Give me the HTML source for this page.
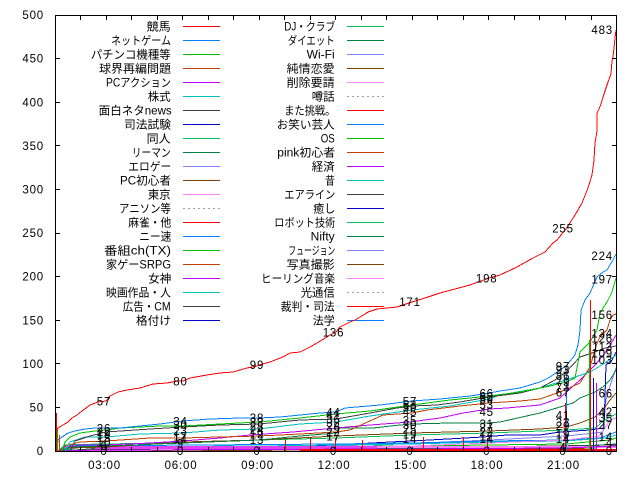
<!DOCTYPE html>
<html><head><meta charset="utf-8"><style>
html,body{margin:0;padding:0;background:#fff;}
svg{display:block;}
.t{font-family:"Liberation Sans","Noto Sans CJK JP",sans-serif;font-size:11.5px;fill:#000;}
.n{font-family:"Liberation Sans",sans-serif;font-size:11.5px;letter-spacing:0.8px;fill:#000;}
</style></head><body>
<svg width="640" height="480" viewBox="0 0 640 480" xmlns="http://www.w3.org/2000/svg">
<rect width="640" height="480" fill="#fff"/>

<!-- y tick labels -->
<g class="n" text-anchor="end">
<text x="44" y="455.1">0</text>
<text x="44" y="411.5">50</text>
<text x="44" y="367.9">100</text>
<text x="44" y="324.3">150</text>
<text x="44" y="280.7">200</text>
<text x="44" y="237.1">250</text>
<text x="44" y="193.5">300</text>
<text x="44" y="149.9">350</text>
<text x="44" y="106.3">400</text>
<text x="44" y="62.7">450</text>
<text x="44" y="19.1">500</text>
</g>
<!-- x tick labels -->
<g class="n" text-anchor="middle">
<text x="104.5" y="469">03:00</text>
<text x="181" y="469">06:00</text>
<text x="257.5" y="469">09:00</text>
<text x="334" y="469">12:00</text>
<text x="410.5" y="469">15:00</text>
<text x="487" y="469">18:00</text>
<text x="563.5" y="469">21:00</text>
</g>

<!-- legend -->
<g class="t" lengthAdjust="spacingAndGlyphs">
<text x="146.7" y="30.5" textLength="24" lengthAdjust="spacingAndGlyphs">競馬</text>
<text x="111" y="44.5" textLength="60" lengthAdjust="spacingAndGlyphs">ネットゲーム</text>
<text x="90.7" y="58.5" textLength="80" lengthAdjust="spacingAndGlyphs">パチンコ機種等</text>
<text x="99" y="72.5" textLength="72" lengthAdjust="spacingAndGlyphs">球界再編問題</text>
<text x="106" y="86.5" textLength="65" lengthAdjust="spacingAndGlyphs">PCアクション</text>
<text x="147.7" y="100.5" textLength="23" lengthAdjust="spacingAndGlyphs">株式</text>
<text x="98.7" y="114.5" textLength="73" lengthAdjust="spacingAndGlyphs">面白ネタnews</text>
<text x="124" y="128.5" textLength="47" lengthAdjust="spacingAndGlyphs">司法試験</text>
<text x="146.7" y="142.5" textLength="24" lengthAdjust="spacingAndGlyphs">同人</text>
<text x="131.7" y="156.5" textLength="39" lengthAdjust="spacingAndGlyphs">リーマン</text>
<text x="128.3" y="170.5" textLength="43" lengthAdjust="spacingAndGlyphs">エロゲー</text>
<text x="120" y="184.5" textLength="51" lengthAdjust="spacingAndGlyphs">PC初心者</text>
<text x="147.7" y="198.5" textLength="23" lengthAdjust="spacingAndGlyphs">東京</text>
<text x="119" y="212.5" textLength="52" lengthAdjust="spacingAndGlyphs">アニソン等</text>
<text x="128.3" y="226.5" textLength="43" lengthAdjust="spacingAndGlyphs">麻雀・他</text>
<text x="139.3" y="240.5" textLength="32" lengthAdjust="spacingAndGlyphs">ニー速</text>
<text x="104" y="254.5" textLength="67" lengthAdjust="spacingAndGlyphs">番組ch(TX)</text>
<text x="106" y="268.5" textLength="65" lengthAdjust="spacingAndGlyphs">家ゲーSRPG</text>
<text x="148.3" y="282.5" textLength="23" lengthAdjust="spacingAndGlyphs">女神</text>
<text x="106" y="296.5" textLength="65" lengthAdjust="spacingAndGlyphs">映画作品・人</text>
<text x="122.7" y="310.5" textLength="48" lengthAdjust="spacingAndGlyphs">広告・CM</text>
<text x="136" y="324.5" textLength="35" lengthAdjust="spacingAndGlyphs">格付け</text>

<text x="284.3" y="30.5" textLength="51" lengthAdjust="spacingAndGlyphs">DJ・クラブ</text>
<text x="287.7" y="44.5" textLength="47" lengthAdjust="spacingAndGlyphs">ダイエット</text>
<text x="306.7" y="58.5" textLength="28" lengthAdjust="spacingAndGlyphs">Wi-Fi</text>
<text x="286.7" y="72.5" textLength="48" lengthAdjust="spacingAndGlyphs">純情恋愛</text>
<text x="286.7" y="86.5" textLength="48" lengthAdjust="spacingAndGlyphs">削除要請</text>
<text x="311.7" y="100.5" textLength="23" lengthAdjust="spacingAndGlyphs">噂話</text>
<text x="284.3" y="114.5" textLength="51" lengthAdjust="spacingAndGlyphs">また挑戦。</text>
<text x="276.7" y="128.5" textLength="58" lengthAdjust="spacingAndGlyphs">お笑い芸人</text>
<text x="320.7" y="142.5" textLength="14" lengthAdjust="spacingAndGlyphs">OS</text>
<text x="277.3" y="156.5" textLength="58" lengthAdjust="spacingAndGlyphs">pink初心者</text>
<text x="311.7" y="170.5" textLength="23" lengthAdjust="spacingAndGlyphs">経済</text>
<text x="325" y="184.5" textLength="10" lengthAdjust="spacingAndGlyphs">昔</text>
<text x="284.3" y="198.5" textLength="51" lengthAdjust="spacingAndGlyphs">エアライン</text>
<text x="313.3" y="212.5" textLength="22" lengthAdjust="spacingAndGlyphs">癒し</text>
<text x="274.3" y="226.5" textLength="61" lengthAdjust="spacingAndGlyphs">ロボット技術</text>
<text x="310.7" y="240.5" textLength="24" lengthAdjust="spacingAndGlyphs">Nifty</text>
<text x="288.3" y="254.5" textLength="47" lengthAdjust="spacingAndGlyphs">フュージョン</text>
<text x="286.7" y="268.5" textLength="48" lengthAdjust="spacingAndGlyphs">写真撮影</text>
<text x="261" y="282.5" textLength="74" lengthAdjust="spacingAndGlyphs">ヒーリング音楽</text>
<text x="300.7" y="296.5" textLength="34" lengthAdjust="spacingAndGlyphs">光通信</text>
<text x="280.7" y="310.5" textLength="54" lengthAdjust="spacingAndGlyphs">裁判・司法</text>
<text x="312.7" y="324.5" textLength="22" lengthAdjust="spacingAndGlyphs">法学</text>
</g>

<g shape-rendering="crispEdges" stroke-width="1" fill="none">
<!-- legend samples left -->
<line x1="183" x2="220" y1="26.5" y2="26.5" stroke="#ff0000"/>
<line x1="183" x2="220" y1="40.5" y2="40.5" stroke="#0080ff"/>
<line x1="183" x2="220" y1="54.5" y2="54.5" stroke="#00c000"/>
<line x1="183" x2="220" y1="68.5" y2="68.5" stroke="#c04000"/>
<line x1="183" x2="220" y1="82.5" y2="82.5" stroke="#c000ff"/>
<line x1="183" x2="220" y1="96.5" y2="96.5" stroke="#00c0c0"/>
<line x1="183" x2="220" y1="110.5" y2="110.5" stroke="#404040"/>
<line x1="183" x2="220" y1="124.5" y2="124.5" stroke="#0000c0"/>
<line x1="183" x2="220" y1="138.5" y2="138.5" stroke="#00c060"/>
<line x1="183" x2="220" y1="152.5" y2="152.5" stroke="#008040"/>
<line x1="183" x2="220" y1="166.5" y2="166.5" stroke="#8080ff"/>
<line x1="183" x2="220" y1="180.5" y2="180.5" stroke="#804000"/>
<line x1="183" x2="220" y1="194.5" y2="194.5" stroke="#ff80ff"/>
<line x1="183" x2="220" y1="208.5" y2="208.5" stroke="#a0a0a0" stroke-dasharray="2,3"/>
<line x1="183" x2="220" y1="222.5" y2="222.5" stroke="#ff0000"/>
<line x1="183" x2="220" y1="236.5" y2="236.5" stroke="#0080ff"/>
<line x1="183" x2="220" y1="250.5" y2="250.5" stroke="#00c000"/>
<line x1="183" x2="220" y1="264.5" y2="264.5" stroke="#c04000"/>
<line x1="183" x2="220" y1="278.5" y2="278.5" stroke="#c000ff"/>
<line x1="183" x2="220" y1="292.5" y2="292.5" stroke="#00c0c0"/>
<line x1="183" x2="220" y1="306.5" y2="306.5" stroke="#404040"/>
<line x1="183" x2="220" y1="320.5" y2="320.5" stroke="#0000c0"/>
<!-- legend samples right -->
<line x1="347" x2="384" y1="26.5" y2="26.5" stroke="#00c060"/>
<line x1="347" x2="384" y1="40.5" y2="40.5" stroke="#008040"/>
<line x1="347" x2="384" y1="54.5" y2="54.5" stroke="#8080ff"/>
<line x1="347" x2="384" y1="68.5" y2="68.5" stroke="#804000"/>
<line x1="347" x2="384" y1="82.5" y2="82.5" stroke="#ff80ff"/>
<line x1="347" x2="384" y1="96.5" y2="96.5" stroke="#a0a0a0" stroke-dasharray="2,3"/>
<line x1="347" x2="384" y1="110.5" y2="110.5" stroke="#ff0000"/>
<line x1="347" x2="384" y1="124.5" y2="124.5" stroke="#0080ff"/>
<line x1="347" x2="384" y1="138.5" y2="138.5" stroke="#00c000"/>
<line x1="347" x2="384" y1="152.5" y2="152.5" stroke="#c04000"/>
<line x1="347" x2="384" y1="166.5" y2="166.5" stroke="#c000ff"/>
<line x1="347" x2="384" y1="180.5" y2="180.5" stroke="#00c0c0"/>
<line x1="347" x2="384" y1="194.5" y2="194.5" stroke="#404040"/>
<line x1="347" x2="384" y1="208.5" y2="208.5" stroke="#0000c0"/>
<line x1="347" x2="384" y1="222.5" y2="222.5" stroke="#00c060"/>
<line x1="347" x2="384" y1="236.5" y2="236.5" stroke="#008040"/>
<line x1="347" x2="384" y1="250.5" y2="250.5" stroke="#8080ff"/>
<line x1="347" x2="384" y1="264.5" y2="264.5" stroke="#804000"/>
<line x1="347" x2="384" y1="278.5" y2="278.5" stroke="#ff80ff"/>
<line x1="347" x2="384" y1="292.5" y2="292.5" stroke="#a0a0a0" stroke-dasharray="2,3"/>
<line x1="347" x2="384" y1="306.5" y2="306.5" stroke="#ff0000"/>
<line x1="347" x2="384" y1="320.5" y2="320.5" stroke="#0080ff"/>

<!-- bottom clutter -->
<polyline stroke="#8080ff" points="58,451 150,447 300,446 377,445 489,440 566,436 603,432 606,400 610,386 616,368"/>
<polyline stroke="#0000c0" points="60,451 200,450 259,447 336,445 390,442 412,441 483,437 507,435 540,435 560,432 590,430 604,428 606,365 612,360 616,352"/>
<polyline stroke="#0080ff" points="60,451 70,446 200,445 336,444 412,443 489,441 566,440 600,438 616,432"/>
<polyline stroke="#00c0c0" points="62,451 80,447 259,446 412,444 489,442 566,441 605,438 616,435"/>
<polyline stroke="#00c000" points="65,451 100,448 259,447 412,446 489,445 566,444 610,440 616,438"/>
<polyline stroke="#404040" points="58,451 90,449 336,448 489,447 616,445"/>
<polyline stroke="#008040" points="70,451 259,449 412,448 566,447 616,444"/>
<polyline stroke="#804000" points="80,451 336,450 566,449 616,447"/>
<polyline stroke="#00c060" points="58,451 65,445 100,444 183,443 259,440 336,438 412,435 489,433 566,430 595,428 605,420 616,414"/>
<polyline stroke="#ff80ff" points="60,451 183,450 259,449 336,447 412,446 489,443 566,440 600,436 610,420 616,418"/>
<polyline stroke="#e040f0" stroke-width="3" points="95,447.5 377,447.5"/>
<polyline stroke="#ff80ff" stroke-width="2" points="377,447 616,447"/>
<polyline stroke="#c000ff" points="60,451 100,450 400,449 566,448 616,446"/>
<polyline stroke="#ff0000" stroke-width="2" points="300,450 616,450"/>

<!-- main series -->
<polyline stroke="#804000" points="60,451 70,448 106,447 183,442 259,440 336,436 412,433 489,431 540,429 566,427 580,423 595,417 603,410 610,400 616,393"/>
<polyline stroke="#008040" points="60,451 70,447 106,446 183,443 259,440 300,436 336,433 340,428 373,428 400,425 412,424 450,423 489,423 500,422 540,413 560,407 573,403 580,398 595,392 603,387 610,380 616,370"/>
<polyline stroke="#c000ff" points="58,451 65,447 80,445 106,445 150,443 183,441 220,438 250,435 293,432 336,428 370,425 410,422 440,418 463,413 489,409 507,408 540,405 560,398 580,380 595,365 605,353 612,342 616,335"/>
<polyline stroke="#c04000" points="60,451 65,446 80,442 106,441 150,438 183,438 220,437 259,436 300,434 336,432 350,430 383,415 412,413 427,410 460,406 489,403 520,401 540,399 560,392 580,383 590,367 597,343 600,337 607,330 610,320 613,315 616,314"/>
<polyline stroke="#00c0c0" points="65,451 70,442 85,437 106,437 140,434 183,433 220,430 259,429 300,424 336,422 370,416 412,410 450,406 489,399 500,395 540,388 566,380 590,372 605,363 616,355"/>
<polyline stroke="#404040" points="70,451 75,441 90,436 106,432 150,429 183,427 220,425 259,424 300,420 336,419 370,413 397,408 412,406 437,405 460,402 483,398 489,397 520,393 540,388 555,380 566,372 580,357 595,352 605,348 616,346"/>
<polyline stroke="#00c000" points="62,451 65,442 70,437 80,433 95,431 106,430 120,428 160,426 183,426 220,424 259,422 300,418 336,414 370,411 412,405 450,400 489,396 520,392 550,386 566,382 575,378 580,352 590,342 597,330 600,313 607,302 612,292 616,278"/>
<polyline stroke="#0080ff" points="57,451 58,440 62,437 68,433 75,431 85,429 95,428 106,428 120,428 140,426 160,424 175,422 183,421 210,419 240,418 259,418 280,417 300,415 320,413 336,412 345,408 380,405 412,401 440,399 470,396 489,393 500,391 520,388 540,382 550,377 560,370 566,366 575,355 578,345 580,330 581,310 585,300 590,293 597,277 603,272 607,270 610,265 613,260 616,254"/>

<!-- spikes -->
<line x1="56.5" x2="56.5" y1="413" y2="451" stroke="#ff0000"/>
<line x1="57.5" x2="57.5" y1="428" y2="451" stroke="#00c000"/>
<line x1="59.5" x2="59.5" y1="435" y2="451" stroke="#c04000"/>
<line x1="285.5" x2="285.5" y1="440" y2="451" stroke="#ff0000"/>
<line x1="310.5" x2="310.5" y1="437" y2="451" stroke="#ff0000"/>
<line x1="335.5" x2="335.5" y1="438" y2="451" stroke="#ff0000"/>
<line x1="362.5" x2="362.5" y1="440" y2="451" stroke="#ff0000"/>
<line x1="423.5" x2="423.5" y1="437" y2="451" stroke="#ff0000"/>
<line x1="463.5" x2="463.5" y1="437" y2="451" stroke="#ff0000"/>
<line x1="487.5" x2="487.5" y1="438" y2="451" stroke="#ff0000"/>
<line x1="565.5" x2="565.5" y1="403" y2="451" stroke="#ff0000"/>
<line x1="566.5" x2="566.5" y1="372" y2="451" stroke="#0080ff"/>
<line x1="589.5" x2="589.5" y1="340" y2="451" stroke="#00c000"/>
<line x1="590.5" x2="590.5" y1="300" y2="451" stroke="#ff0000"/>
<line x1="593.5" x2="593.5" y1="378" y2="451" stroke="#0000c0"/>
<line x1="596.5" x2="596.5" y1="383" y2="451" stroke="#c000ff"/>

<!-- red main -->
<polyline stroke="#ff0000" points="56,451 56,432 58,428 63,425 68,422 72,418 77,415 82,411 90,405 98,402 106,401 110,396 118,392 127,390 140,388 153,384 167,383 177,381 183,381 190,378 207,375 220,373 233,372 247,368 257,366 259,365 270,362 275,360 283,357 290,353 300,352 310,347 317,343 322,340 330,335 336,332 340,327 350,322 355,320 365,314 368,312 377,309 397,307 412,302 425,298 440,293 455,289 470,285 489,278 500,275 517,267 533,258 545,252 553,243 557,240 566,229 575,215 582,203 588,188 592,175 594,160 595,143 597,131 597,113 599,109 601,104 603,97 606,88 608,82 611,74 612,61 613,57 614,48 615,38 616,30"/>
</g>

<!-- value labels -->
<g class="n" text-anchor="middle">
<text x="104" y="405.4">57</text><text x="104" y="432.4">26</text><text x="104" y="435.9">22</text><text x="104" y="438.5">19</text><text x="104" y="442">15</text><text x="104" y="446.4">10</text><text x="104" y="449.9">6</text><text x="104" y="455.1">0</text>
<text x="180.5" y="385.3">80</text><text x="180.5" y="425.5">34</text><text x="180.5" y="428.9">30</text><text x="180.5" y="435.1">23</text><text x="180.5" y="440.3">17</text><text x="180.5" y="442.9">14</text><text x="180.5" y="447.3">9</text><text x="180.5" y="455.1">0</text>
<text x="257" y="368.8">99</text><text x="257" y="422">38</text><text x="257" y="426.3">33</text><text x="257" y="430.7">28</text><text x="257" y="434.2">24</text><text x="257" y="438.5">19</text><text x="257" y="443.8">13</text><text x="257" y="455.1">0</text>
<text x="333.5" y="336.5">136</text><text x="333.5" y="416.7">44</text><text x="333.5" y="419.3">41</text><text x="333.5" y="423.7">36</text><text x="333.5" y="427.2">32</text><text x="333.5" y="430.7">28</text><text x="333.5" y="435.9">22</text><text x="333.5" y="440.3">17</text><text x="333.5" y="455.1">0</text>
<text x="410" y="306">171</text><text x="410" y="405.4">57</text><text x="410" y="408.9">53</text><text x="410" y="411.5">50</text><text x="410" y="415.9">45</text><text x="410" y="424.6">35</text><text x="410" y="428.9">30</text><text x="410" y="433.3">25</text><text x="410" y="438.5">19</text><text x="410" y="442.9">14</text><text x="410" y="455.1">0</text>
<text x="486.7" y="282.4">198</text><text x="486.7" y="397.5">66</text><text x="486.7" y="401">62</text><text x="486.7" y="403.7">59</text><text x="486.7" y="408.9">53</text><text x="486.7" y="415.9">45</text><text x="486.7" y="428.1">31</text><text x="486.7" y="431.6">27</text><text x="486.7" y="435.9">22</text><text x="486.7" y="440.3">17</text><text x="486.7" y="442.9">14</text><text x="486.7" y="455.1">0</text>
<text x="563" y="232.7">255</text><text x="563" y="370.5">97</text><text x="563" y="374">93</text><text x="563" y="380.1">86</text><text x="563" y="386.2">79</text><text x="563" y="391.4">73</text><text x="563" y="396.7">67</text><text x="563" y="419.3">41</text><text x="563" y="426.3">33</text><text x="563" y="429.8">29</text><text x="563" y="438.5">19</text><text x="563" y="442.9">14</text><text x="563" y="451.6">4</text><text x="563" y="455.1">0</text>
</g>
<g class="n" text-anchor="end">
<text x="613" y="33.9">483</text><text x="613" y="259.8">224</text><text x="613" y="283.3">197</text><text x="613" y="319.1">156</text><text x="613" y="337.4">134</text><text x="613" y="342.5">126</text><text x="613" y="350.8">113</text><text x="613" y="357.4">109</text><text x="613" y="364">103</text><text x="613" y="397.4">66</text><text x="613" y="416">42</text><text x="613" y="422">35</text><text x="613" y="429">27</text><text x="613" y="441">14</text><text x="613" y="447">4</text><text x="613" y="455.1">0</text>
</g>

<!-- frame & ticks -->
<g shape-rendering="crispEdges" stroke="#000" stroke-width="1" fill="none">
<rect x="55.5" y="15.5" width="561" height="436"/>
<path d="M55,407.5h5M55,363.5h5M55,320.5h5M55,276.5h5M55,233.5h5M55,189.5h5M55,145.5h5M55,102.5h5M55,58.5h5
M617,407.5h-5M617,363.5h-5M617,320.5h-5M617,276.5h-5M617,233.5h-5M617,189.5h-5M617,145.5h-5M617,102.5h-5M617,58.5h-5"/>
<path d="M80.5,16v4M106.5,16v4M131.5,16v4M157.5,16v4M182.5,16v4M208.5,16v4M233.5,16v4M259.5,16v4M284.5,16v4M310.5,16v4M335.5,16v4M361.5,16v4M386.5,16v4M412.5,16v4M437.5,16v4M463.5,16v4M488.5,16v4M514.5,16v4M539.5,16v4M565.5,16v4M591.5,16v4
M80.5,451v-4M106.5,451v-4M131.5,451v-4M157.5,451v-4M182.5,451v-4M208.5,451v-4M233.5,451v-4M259.5,451v-4M284.5,451v-4M310.5,451v-4M335.5,451v-4M361.5,451v-4M386.5,451v-4M412.5,451v-4M437.5,451v-4M463.5,451v-4M488.5,451v-4M514.5,451v-4M539.5,451v-4M565.5,451v-4M591.5,451v-4"/>
</g>
</svg>
</body></html>
